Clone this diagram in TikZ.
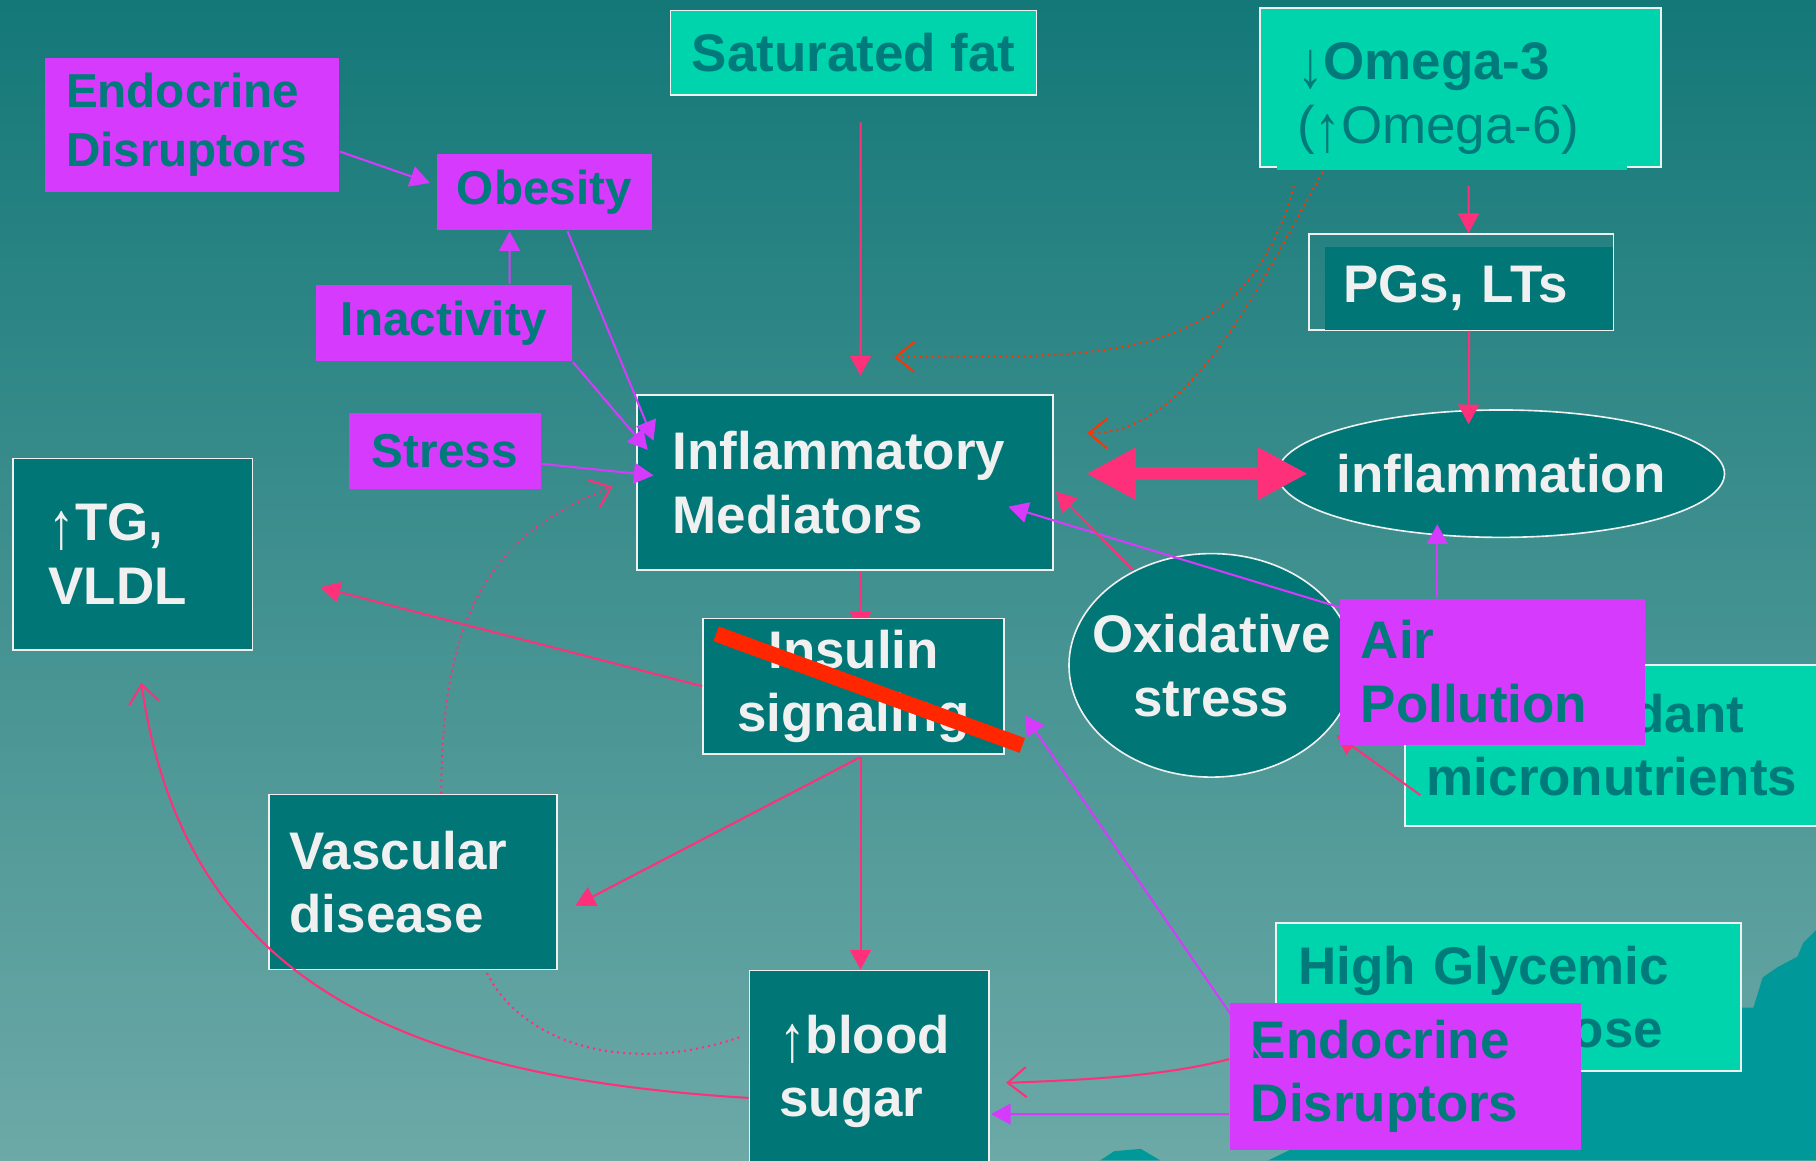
\documentclass[tikz,border=0pt]{standalone}
\usepackage{fontspec}
\setmainfont{Liberation Sans}
\usetikzlibrary{arrows.meta,shapes.geometric}

\definecolor{bgtop}{RGB}{20,120,120}
\definecolor{bgbot}{RGB}{108,169,167}
\definecolor{hill}{RGB}{0,152,152}
\definecolor{tealbox}{RGB}{0,118,118}
\definecolor{tealtext}{RGB}{0,122,122}
\definecolor{mint}{RGB}{0,212,172}
\definecolor{magbox}{RGB}{214,58,252}
\definecolor{hotpink}{RGB}{255,48,122}
\definecolor{strikered}{RGB}{255,38,0}
\definecolor{dotred}{RGB}{255,51,0}
\definecolor{offwhite}{RGB}{240,240,240}

\newcommand{\uparr}{{\mdseries\raisebox{-0.15em}{\scalebox{1}[1.25]{↑}}}}
\newcommand{\downarr}{{\mdseries\raisebox{-0.15em}{\scalebox{1}[1.25]{↓}}}}

\pgfdeclarelayer{back}
\pgfdeclarelayer{under}
\pgfsetlayers{back,under,main}

\begin{document}
\begin{tikzpicture}[x=0.1mm,y=-0.1mm,>={Triangle[length=1.7mm,width=1.8mm]}]
    \tikzset{tblock/.style={draw=offwhite, line width=0.4pt, fill=tealbox, text=offwhite, rectangle, align=left, inner ysep=0pt,
        font=\bfseries\fontsize{13}{15.6}\selectfont},
    gblock/.style={tblock, fill=mint, text=tealtext},
    mblock/.style={tblock, draw=none, fill=magbox, text=tealtext},
    smallmblock/.style={mblock, align=center, font=\bfseries\fontsize{11.7}{14.5}\selectfont},
    oval/.style={tblock, ellipse, align=center, inner ysep=0pt, inner xsep=-2mm},
    pinkline/.style={draw, color=hotpink, line width=0.5pt},
    magline/.style={draw, color=magbox, line width=0.5pt},
    barb/.style={-{Straight Barb[length=1.6mm,width=2.6mm]}},
    dotline/.style={draw, densely dotted, line width=0.5pt, barb},
    strikebar/.style={draw=strikered, line width=1.35mm},
    }
    \useasboundingbox (0,0) rectangle (1568,1002);
    \begin{pgfonlayer}{back}
        \fill[top color=bgtop, bottom color=bgbot] (0,0) rectangle (1568,1002);
        \fill[hill] (1095,1002) -- (1130,985) -- (1200,960) -- (1260,930) -- (1295,870) -- (1514,870) -- (1522,844)
            -- (1535,835) -- (1552,826) -- (1557,814) -- (1568,803) -- (1568,1002) -- cycle;
        \fill[hill] (950,1002) -- (962,994) -- (985,992) -- (1002,1002) -- cycle;
    \end{pgfonlayer}

    \node[gblock, align=center, minimum width=31.6mm, minimum height=7.3mm] (satfat) at (737,45.5) {Saturated fat};
    \node[gblock, minimum width=34.6mm, minimum height=13.7mm] (omegaframe) at (1261,75.5) {};
    \node[gblock, draw=none, minimum width=30.2mm, minimum height=12.4mm, text width=26.8mm] (omega) at (1254,85)
        {\downarr Omega-3\\{\mdseries(\uparr Omega-6)}};
    \node[draw=offwhite, line width=0.4pt, minimum width=26.3mm, minimum height=8.3mm] (pgsframe) at (1261.5,243.5) {};
    \node[tblock, draw=none, minimum width=24.9mm, minimum height=7.2mm, text width=21.7mm] (pgs) at (1268.5,249) {PGs, LTs};
    \node[smallmblock, align=left, minimum width=25.4mm, minimum height=11.6mm, text width=21.8mm] (endoA) at (166,108) {Endocrine\\Disruptors};
    \node[smallmblock, minimum width=18.6mm, minimum height=6.6mm] (obesity) at (470,166) {Obesity};
    \node[smallmblock, minimum width=22.1mm, minimum height=6.6mm] (inactivity) at (383.5,279) {Inactivity};
    \node[smallmblock, minimum width=16.6mm, minimum height=6.5mm] (stress) at (384,389.5) {Stress};
    \node[tblock, minimum width=35.9mm, minimum height=15.1mm, text width=29.7mm] (infl) at (729.5,416.5) {Inflammatory\\Mediators};
    \node[oval, minimum width=38.6mm, minimum height=11mm] (inflam) at (1296,409) {inflammation};
    \node[tblock, minimum width=20.7mm, minimum height=16.5mm, text width=14.5mm] (tg) at (114.5,478.5) {\uparr TG,\\VLDL};
    \node[tblock, align=center, minimum width=26mm, minimum height=11.7mm] (insulin) at (737,592.5) {Insulin\\signaling};
    \node[oval, minimum width=24.6mm, minimum height=19.3mm] (oxid) at (1046,574.5) {Oxidative\\stress};
    \node[gblock, minimum width=40.7mm, minimum height=13.9mm, text width=36.9mm] (antiox) at (1416.5,643.5)
        {\downarr Antioxidant\\micronutrients};
    \draw[pinkline, ->] ([shift={(14,43)}]antiox.west) -- ([shift={(108,60)}]oxid.center);
    \node[mblock, minimum width=26.3mm, minimum height=12.6mm, text width=22.7mm] (air) at (1288.5,580) {Air\\Pollution};
    \node[tblock, minimum width=24.9mm, minimum height=15.1mm, text width=21.3mm] (vasc) at (356.5,761.5) {Vascular\\disease};
    \node[tblock, minimum width=20.7mm, minimum height=17.4mm, text width=15.5mm] (blood) at (750.5,925) {\uparr blood\\sugar};
    \node[gblock, minimum width=40.1mm, minimum height=12.8mm, text width=36.3mm] (glyc) at (1302.5,861) {High Glycemic\\Index Glucose};
    \node[mblock, minimum width=30.3mm, minimum height=12.7mm, text width=26.7mm] (endoB) at (1213.5,929.5) {Endocrine\\Disruptors};

    \draw[strikebar] ([shift={(12,14)}]insulin.north west) -- ([shift={(15,-8)}]insulin.south east);

% paths
    \begin{pgfonlayer}{under}
        \draw[pinkline, ->] ([shift={(13.5,0)}]infl.south) -- ([shift={(6,12)}]insulin.north);
    \end{pgfonlayer}
    \path[magline, every edge/.append style={->}]
                ([shift={(0,23)}]endoA.east) edge ([shift={(-5,-8)}]obesity.west)
                ([shift={(56.5,0)}]inactivity.north) edge ([shift={(-30,0)}]obesity.south)
                ([shift={(20,0)}]obesity.south) edge ([shift={(15,-36)}]infl.west)
                (inactivity.south east) edge ([shift={(10,-28)}]infl.west)
                ([shift={(0,11)}]stress.east) edge ([shift={(15,-6)}]infl.west)
                ([shift={(0,8)}]air.north west) edge ([shift={(-39,21)}]infl.east)
                ([shift={(-47.5,0)}]air.north) edge ([shift={(-55,-12)}]inflam.south)
                ([shift={(28,-15)}]endoB.west) edge ([shift={(17,25)}]insulin.east)
                ([shift={(0,32.5)}]endoB.west) edge ([shift={(1,37)}]blood.east)
                ;
    \path[pinkline, every edge/.append style={->}]
                ([shift={(6,23)}]satfat.south) edge ([shift={(13.5,-16)}]infl.north)
                ([shift={(14,13)}]omega.south) edge ([shift={(6.5,0)}]pgsframe.north)
                (pgs.south) edge ([shift={(-28,13)}]inflam.north)
                (insulin.west) edge ([shift={(58,28.5)}]tg.east)
                ([shift={(6,2)}]insulin.south) edge ([shift={(15,20.5)}]vasc.east)
                ([shift={(6,2)}]insulin.south) edge ([shift={(-7.5,0)}]blood.north)
                ([shift={(-68,-82.5)}]oxid.center) edge ([shift={(2,8)}]infl.east)
                ;
    \draw[pinkline, barb] ([shift={(0,23)}]blood.west) .. controls (350,930) and (160,850) .. ([shift={(7.5,28)}]tg.south);
    \draw[pinkline, barb] ([shift={(0,-15)}]endoB.west) .. controls (1010,928) and (950,932) .. ([shift={(14,10)}]blood.east);
    \draw[dotline, color=dotred] ([shift={(-137,13)}]omega.south) .. controls (1075,315) and (960,308) .. ([shift={(42.5,-32)}]infl.north);
    \draw[dotline, color=dotred] ([shift={(-112,1)}]omega.south) .. controls (1090,240) and (1030,375) .. ([shift={(29,-42.5)}]infl.east);
    \draw[dotline, color=hotpink] ([shift={(24.5,0)}]vasc.north) .. controls (381,520) and (430,460) .. ([shift={(-20.5,3.5)}]infl.west);
    \draw[pinkline, densely dotted] ([shift={(64,2.5)}]vasc.south) .. controls (450,900) and (540,930) .. ([shift={(-6,-30)}]blood.west);
    \draw[hotpink, line width=1.15mm, {Triangle[length=4.3mm,width=4.2mm]}-{Triangle[length=4.3mm,width=4.2mm]}]
        ([shift={(28,-7.5)}]infl.east) -- ([shift={(27,0)}]inflam.west);
\end{tikzpicture}
\end{document}
